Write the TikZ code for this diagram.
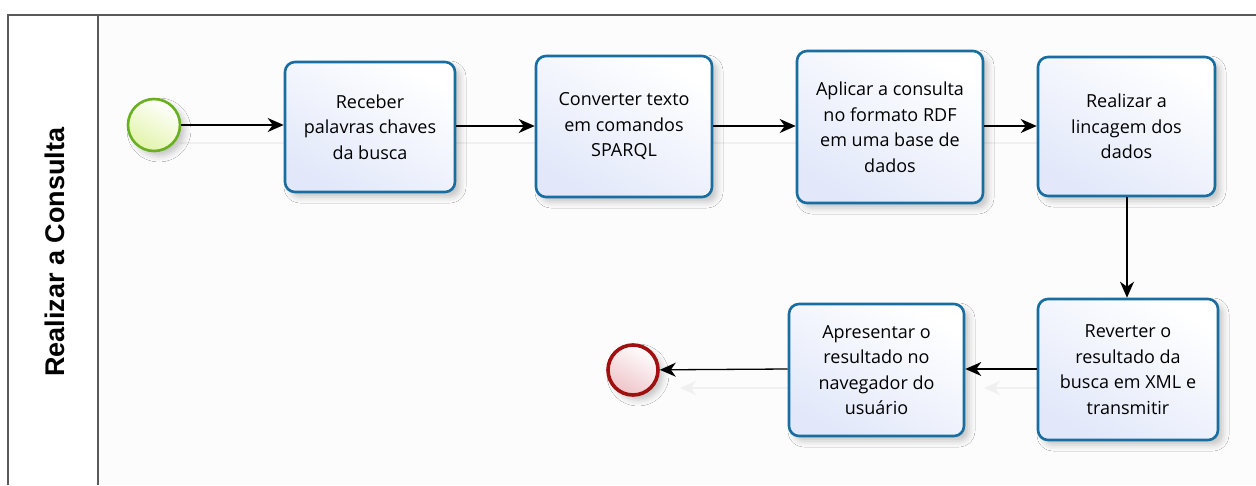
\documentclass[tikz,border=0pt]{standalone}
\usepackage{fontspec}
\setmainfont{Open Sans}
\newfontfamily\lanefont{Liberation Sans}
\usetikzlibrary{arrows.meta,shadows.blur}
\definecolor{taskline}{RGB}{24,110,160}
\definecolor{taskfill}{RGB}{226,232,250}
\definecolor{startline}{RGB}{104,176,30}
\definecolor{startfill}{RGB}{226,244,170}
\definecolor{endline}{RGB}{160,16,16}
\definecolor{endfill}{RGB}{238,196,200}
\definecolor{poolline}{RGB}{90,90,90}
\tikzset{
  task/.style={draw=taskline, line width=2.6pt, rounded corners=10pt,
    top color=white, bottom color=taskfill, shading angle=-30,
    align=center, inner sep=0pt,
    font=\fontsize{18}{25.5}\selectfont,
    blur shadow={shadow xshift=5pt, shadow yshift=-5pt, shadow blur radius=6pt, shadow opacity=22}},
  startev/.style={circle, draw=startline, line width=2.6pt, minimum size=52pt,
    inner sep=0pt, top color=white, bottom color=startfill, shading angle=-30,
    blur shadow={shadow xshift=5pt, shadow yshift=-5pt, shadow blur radius=6pt, shadow opacity=22}},
  endev/.style={circle, draw=endline, line width=3.6pt, minimum size=50pt,
    inner sep=0pt, top color=white, bottom color=endfill, shading angle=-30,
    blur shadow={shadow xshift=5pt, shadow yshift=-5pt, shadow blur radius=6pt, shadow opacity=22}},
  flow/.style={draw=black, line width=1.3pt, -{Stealth[length=16pt,width=14pt,inset=5pt]}},
  ghost/.style={draw=black!6, line width=1.3pt},
  ghosttip/.style={ghost, -{Stealth[length=16pt,width=14pt,inset=5pt]}},
  pool/.style={draw=poolline, line width=1.6pt}
}
\begin{document}
\begin{tikzpicture}[x=1pt,y=-1pt]
\useasboundingbox (0,0) rectangle (1256,485);
\fill[white] (0,0) rectangle (1256,485);
\fill[black!1] (98,15) rectangle (1256,485);

% pool and lane
\draw[pool] (8,485) -- (8,15) -- (1256,15);
\draw[pool] (98,15) -- (98,485);
\node[rotate=90, font=\lanefont\bfseries\fontsize{27}{30}\selectfont] (lane) at (55,252) {Realizar a Consulta};

% faint reflections of the sequence flows
\draw[ghost] (180,143) -- (1040,143);
\draw[ghosttip] (1040,388) -- (984,388);
\draw[ghosttip] (790,388) -- (680,388);

% events and tasks
\node[startev] (start) at (154,125) {};
\node[task, minimum width=170pt, minimum height=130pt] (t1) at (370,127) {Receber\\palavras chaves\\da busca};
\node[task, minimum width=176pt, minimum height=141pt] (t2) at (624,126.5) {Converter texto\\em comandos\\SPARQL};
\node[task, minimum width=186pt, minimum height=152pt] (t3) at (890,127) {Aplicar a consulta\\no formato RDF\\em uma base de\\dados};
\node[task, minimum width=177pt, minimum height=139pt] (t4) at (1126.5,126.5) {Realizar a\\lincagem dos\\dados};
\node[task, minimum width=180pt, minimum height=141pt] (t5) at (1128,369.5) {Reverter o\\resultado da\\busca em XML e\\transmitir};
\node[task, minimum width=175pt, minimum height=132pt] (t6) at (876.5,370) {Apresentar o\\resultado no\\navegador do\\usuário};
\node[endev] (end) at (633,370) {};

% sequence flows
\draw[flow] (start) -- (t1.west |- start);
\draw[flow] (t1.east |- 0,126) -- (t2.west |- 0,126);
\draw[flow] (t2.east |- 0,126) -- (t3.west |- 0,126);
\draw[flow] (t3.east |- 0,126) -- (t4.west |- 0,126);
\draw[flow] (t4.south -| 1127,0) -- (t5.north -| 1127,0);
\draw[flow] (t5.west |- 0,369) -- (t6.east |- 0,369);
\draw[flow] (t6.west |- 0,369) -- (end);
\end{tikzpicture}
\end{document}
